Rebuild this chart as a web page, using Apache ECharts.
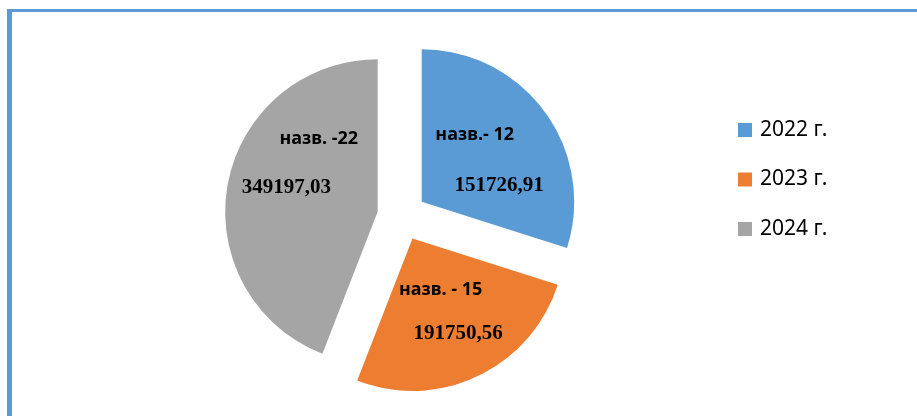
<!DOCTYPE html>
<html>
<head>
<meta charset="utf-8">
<script src="https://cdn.jsdelivr.net/npm/echarts@6/dist/echarts.min.js"></script>
<style>
  html, body { margin: 0; padding: 0; background: #ffffff; }
  #frame { position: absolute; left: 7px; top: 9px; width: 910px; height: 407px;
           box-sizing: border-box; border-top: 3px solid #5B9BD5; border-left: 5px solid #5B9BD5; }
  #chart { position: absolute; left: 0; top: 0; width: 917px; height: 416px; }
</style>
</head>
<body>
<div id="frame"></div>
<div id="chart"></div>
<script>
// ---- data ----
const years = ['2022 г.', '2023 г.', '2024 г.'];
// slice sizes as drawn (share of the circle, %)
const sliceShares = [29.9, 26.0, 44.1];
// label texts as printed in the slices
const countLabels = ['назв.- 12', 'назв. - 15', 'назв. -22'];
const amountLabels = ['151726,91', '191750,56', '349197,03'];

// ---- styling ----
const colors = ['#5B9BD5', '#ED7D31', '#A5A5A5'];
// per-slice label tweaks: block shift, line gap, second-line horizontal shift
const labelTweaks = [
  { dx: -11, dy: 5, gap: 51, shift: 24.5 },
  { dx: -6, dy: 2, gap: 44, shift: 17.5 },
  { dx: 19, dy: -34, gap: 48, shift: -32.5 }
];

const chart = echarts.init(document.getElementById('chart'), null, { renderer: 'canvas' });

const data = years.map((y, i) => {
  const t = labelTweaks[i];
  const pad = t.shift >= 0 ? [0, 0, 0, 2 * t.shift] : [0, -2 * t.shift, 0, 0];
  return {
    name: y,
    value: sliceShares[i],
    selected: true,
    itemStyle: { color: colors[i] },
    label: {
      formatter: '{a|' + countLabels[i] + '}\n{b|' + amountLabels[i] + '}',
      rich: {
        a: { fontFamily: '"Noto Sans", sans-serif', fontWeight: 'bold', fontSize: 18,
             color: '#000', lineHeight: t.gap, align: 'center' },
        b: { fontFamily: '"Liberation Serif", serif', fontWeight: 'bold', fontSize: 21,
             color: '#000', lineHeight: t.gap, align: 'center', padding: pad }
      }
    }
  };
});

chart.setOption({
  animation: false,
  backgroundColor: 'transparent',
  legend: {
    orient: 'vertical',
    left: 738,
    top: 119,
    padding: 0,
    icon: 'rect',
    itemWidth: 14,
    itemHeight: 14,
    itemGap: 27.5,
    selectedMode: false,
    data: years,
    textStyle: { fontFamily: '"Noto Sans", sans-serif', fontSize: 21, lineHeight: 22,
                 color: '#000', padding: [0, 0, 0, 3] }
  },
  series: [{
    type: 'pie',
    center: [401.85, 216.24],
    radius: [0, 152.5],
    startAngle: 90,
    clockwise: true,
    selectedMode: 'multiple',
    selectedOffset: 24.6,
    avoidLabelOverlap: false,
    itemStyle: { borderWidth: 0 },
    emphasis: { disabled: true, scale: false },
    label: { show: true, position: 'inside' },
    labelLine: { show: false },
    labelLayout: function (params) {
      const t = labelTweaks[params.dataIndex];
      return { dx: t.dx, dy: t.dy };
    },
    data: data
  }]
});
</script>
</body>
</html>
